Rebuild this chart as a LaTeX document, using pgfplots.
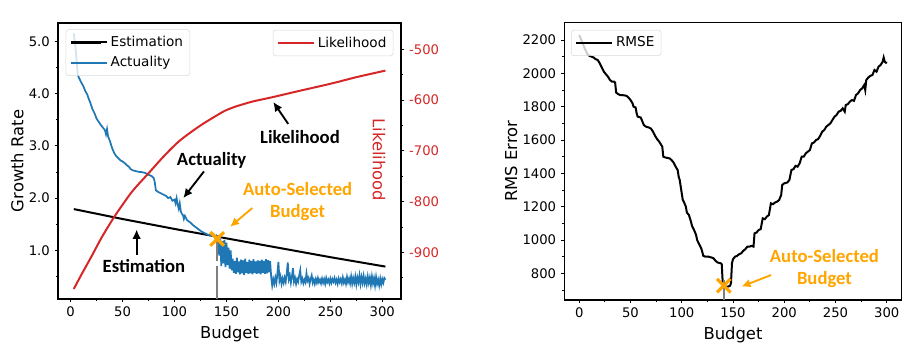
\documentclass[border=0pt]{standalone}
\usepackage{pgfplots}
\pgfplotsset{compat=1.18}
\usepackage{fontspec}
\setmainfont{DejaVu Sans}
\newfontfamily\annfont{Carlito}
\usetikzlibrary{arrows.meta}
\definecolor{mplblue}{HTML}{1F77B4}
\definecolor{mplred}{HTML}{D62728}
\definecolor{mplorange}{HTML}{FFA500}
\definecolor{mplgray}{HTML}{7F7F7F}
\newcommand{\tickfont}{\fontsize{9.9}{11}\selectfont}
\newcommand{\labfont}{\fontsize{12.3}{14}\selectfont}
\newcommand{\legfont}{\fontsize{10.2}{12}\selectfont}
\newcommand{\annf}{\annfont\bfseries\fontsize{14}{16.7}\selectfont}

\tikzset{arr/.style={-{Latex[length=7pt,width=6.5pt]}, line width=1.4pt}}
\pgfplotsset{
  mystyle/.style={
    scale only axis,
    tick align=outside,
    major tick length=2.6pt,
    minor tick length=1.6pt,
    every tick/.style={black, line width=0.6pt},
    axis line style={line width=0.8pt},
    ticklabel style={font=\tickfont},
    /pgf/number format/assume math mode=true,
    /pgf/number format/1000 sep={},
    label style={font=\labfont},
    ylabel shift={-3pt},
    legend cell align=left,
    legend style={font=\legfont, draw=black!15, rounded corners=2pt, fill=white,
      fill opacity=0.8, text opacity=1, inner xsep=3pt, inner ysep=3pt, row sep=2pt},
    legend image code/.code={\draw[##1, line width=1.6pt] (0pt,0pt) -- (22.5pt,0pt);
      \path (0pt,0pt) -- (27pt,0pt);},
  },
  xmark/.style={mplorange, only marks, mark=x, mark size=7.2pt, mark options={line width=2.4pt}, forget plot},
}

\begin{document}
\begin{tikzpicture}
\path[use as bounding box] (0,0) rectangle (690pt,259.5pt);

% ---------------- left: growth rate ----------------
\begin{axis}[mystyle,
  at={(43.5pt,35.25pt)}, anchor=south west, width=257.25pt, height=207pt,
  xmin=-12.2, xmax=318, ymin=0.07, ymax=5.35,
  xtick={0,50,100,150,200,250,300}, minor x tick num=1,
  ytick={1,2,3,4,5}, yticklabels={1.0,2.0,3.0,4.0,5.0},
  minor ytick={0.5,1.5,2.5,3.5,4.5},
  xtick pos=bottom, ytick pos=left,
  xlabel={Budget}, ylabel={Growth Rate},
  legend style={at={(0.0224,0.977)}, anchor=north west},
]
\addplot[black, line width=1.5pt] coordinates {
(3,1.79) (50,1.60) (100,1.41) (150,1.23) (200,1.05) (250,0.87) (303,0.69)};
\addlegendentry{Estimation}
\addplot[mplblue, line width=1.3pt] coordinates {
(3,5.15) (4,5.00) (5,4.80) (6,4.55) (7,4.35) (8,4.30) (10,4.22) (12,4.15) (14,4.05)
(16,3.98) (17,3.92) (19,3.82) (21,3.70) (23,3.62) (25,3.52) (27,3.46) (29,3.40)
(31,3.35) (33,3.30) (34,3.22) (35,3.32) (36,3.18) (38,3.08) (40,2.95) (42,2.86)
(44,2.80) (46,2.76) (48,2.72) (50,2.70) (52,2.67) (54,2.63) (56,2.60) (58,2.55)
(60,2.53) (62,2.52) (64,2.51) (66,2.50) (68,2.50) (70,2.49) (72,2.48) (74,2.45)
(76,2.44) (78,2.42) (80,2.38) (81,2.30) (82,2.15) (84,2.12) (86,2.10) (88,2.08)
(90,2.06) (92,2.04) (94,2.00) (96,2.02) (98,1.95) (100,1.97) (101,1.90) (102,2.00)
(103,1.88) (104,1.80) (105,1.90) (106,1.75) (107,1.70) (108,1.68) (109,1.60)
(110,1.66) (112,1.58) (114,1.55) (116,1.52) (118,1.48) (120,1.45) (122,1.42)
(124,1.39) (126,1.36) (128,1.34) (130,1.32) (132,1.30) (134,1.29) (136,1.28)
(138,1.30) (139,1.25) (140,1.28) (141,1.22)
(142,1.25) (143,0.90) (144,1.22) (145,0.70) (146,1.18) (147,0.75) (148,1.20)
(149,0.68) (150,1.15) (151,0.72) (152,1.05) (153,0.65) (154,1.00) (155,0.62)
(156,0.84) (157,0.57) (158,0.80) (159,0.55) (160,0.86) (161,0.58) (162,0.79)
(163,0.54) (164,0.82) (165,0.56) (166,0.81) (167,0.53) (168,0.84) (169,0.57)
(170,0.78) (171,0.55) (172,0.82) (173,0.56) (174,0.80) (175,0.54) (176,0.83)
(177,0.57) (178,0.79) (179,0.55) (180,0.81) (181,0.56) (182,0.80) (183,0.54)
(184,0.82) (185,0.57) (186,0.80) (187,0.55) (188,0.83) (189,0.56) (190,0.81)
(191,0.58) (192,0.80)
(193,0.50) (194,0.33) (195,0.45) (196,0.36) (197,0.48) (198,0.38) (199,0.55)
(200,0.78) (201,0.42) (202,0.50) (203,0.36) (204,0.46) (205,0.38) (206,0.48)
(207,0.40) (208,0.55) (209,0.77) (210,0.45) (211,0.52) (212,0.38) (213,0.50)
(214,0.66) (215,0.40) (216,0.47) (217,0.36) (218,0.45) (219,0.40) (220,0.52)
(221,0.62) (222,0.40) (223,0.46) (224,0.37) (225,0.44) (226,0.39) (227,0.56)
(228,0.42) (229,0.47) (230,0.36) (231,0.45) (232,0.52) (233,0.38) (234,0.44)
(235,0.36) (236,0.45) (237,0.38) (238,0.47) (239,0.39) (240,0.44) (241,0.37)
(242,0.46) (243,0.38) (244,0.45) (245,0.36) (246,0.47) (247,0.39) (248,0.44)
(249,0.37) (250,0.46) (251,0.38) (252,0.45) (253,0.40) (254,0.47) (255,0.38)
(256,0.44) (257,0.36) (258,0.46) (259,0.39) (260,0.45) (261,0.37) (262,0.48)
(263,0.38) (264,0.44) (265,0.36) (266,0.49) (267,0.39) (268,0.46) (269,0.37)
(270,0.50) (271,0.36) (272,0.47) (273,0.38) (274,0.50) (275,0.35) (276,0.48)
(277,0.39) (278,0.52) (279,0.36) (280,0.49) (281,0.38) (282,0.51) (283,0.37)
(284,0.46) (285,0.35) (286,0.50) (287,0.38) (288,0.48) (289,0.34) (290,0.50)
(291,0.37) (292,0.47) (293,0.33) (294,0.49) (295,0.36) (296,0.44) (297,0.33)
(298,0.46) (299,0.35) (300,0.45) (301,0.38) (302,0.47) (303,0.44)};
\addlegendentry{Actuality}
\addplot[mplgray, line width=1.5pt, dash pattern=on 24.5pt off 3.75pt, forget plot]
  coordinates {(141,0.07) (141,1.30)};
\addplot[xmark] coordinates {(141,1.22)};
\node[font=\annf] at (axis cs:220.7,3.17) {Likelihood};
\draw[arr] (axis cs:209.4,3.42) -- (axis cs:195,3.84);
\node[font=\annf] at (axis cs:135.7,2.73) {Actuality};
\draw[arr] (axis cs:128.3,2.51) -- (axis cs:108.4,2.0);
\node[font=\annf] at (axis cs:70.5,0.70) {Estimation};
\draw[arr] (axis cs:63.5,0.92) -- (axis cs:63.5,1.40);
\node[font=\annf, text=mplorange, align=center] at (axis cs:218.5,1.93) {Auto-Selected\\Budget};
\draw[arr, mplorange] (axis cs:174.8,1.81) -- (axis cs:153.3,1.45);
\end{axis}

% ---------------- left: likelihood twin ----------------
\begin{axis}[mystyle,
  at={(43.5pt,35.25pt)}, anchor=south west, width=257.25pt, height=207pt,
  xmin=-12.2, xmax=318, ymin=-991.7, ymax=-448.3,
  axis x line=none, axis y line*=right, tick align=outside,
  ytick={-900,-800,-700,-600,-500}, yticklabels={-900,-800,-700,-600,-500},
  minor ytick={-950,-850,-750,-650,-550},
  yticklabel style={text=mplred},
  legend style={at={(0.9776,0.975)}, anchor=north east},
]
\addplot[mplred, line width=1.5pt, smooth] coordinates {
(3,-972) (10,-945) (20,-908) (30,-870) (41,-833) (50,-806) (60,-778) (75,-744)
(90,-710) (105,-680) (125,-650) (145,-625) (152,-618) (160,-612) (175,-603)
(195,-594) (220,-582) (250,-568) (275,-555) (303,-542)};
\addlegendentry{Likelihood}
\node[font=\labfont, text=mplred, rotate=-90] at (rel axis cs:0.936,0.504) {Likelihood};
\end{axis}

% ---------------- right: RMSE ----------------
\begin{axis}[mystyle,
  at={(423.2pt,34.5pt)}, anchor=south west, width=253.1pt, height=208pt,
  xmin=-14.6, xmax=314.6, ymin=640, ymax=2304,
  xtick={0,50,100,150,200,250,300}, minor x tick num=1,
  ytick={800,1000,1200,1400,1600,1800,2000,2200},
  minor ytick={700,900,1100,1300,1500,1700,1900,2100},
  xtick pos=bottom, ytick pos=left,
  xlabel={Budget}, ylabel={RMS Error},
  legend style={at={(0.02,0.974)}, anchor=north west},
]
\addplot[black, line width=1.5pt] coordinates {
(0,2230) (2,2200) (4,2170) (6,2140) (8,2115) (10,2105) (12,2100) (14,2095) (16,2085)
(18,2080) (20,2060) (22,2035) (24,2010) (26,1995) (28,1980) (30,1960) (32,1950)
(34,1950) (35,1945) (36,1885) (38,1875) (40,1870) (44,1868) (46,1865) (48,1855)
(50,1840) (52,1820) (53,1800) (55,1795) (56,1760) (57,1740) (60,1735) (62,1705)
(63,1690) (65,1680) (68,1675) (70,1668) (72,1650) (74,1625) (76,1605) (78,1590)
(80,1570) (81,1560) (82,1500) (84,1495) (88,1490) (90,1480) (92,1465) (94,1440)
(96,1420) (97,1380) (98,1360) (99,1320) (100,1280) (101,1240) (102,1230) (104,1200)
(105,1165) (107,1150) (109,1110) (110,1085) (112,1060) (114,1030) (115,1000)
(117,975) (119,950) (120,930) (121,905) (123,900) (126,900) (129,895) (131,890)
(133,875) (135,865) (138,860) (139,855) (140,740) (141,725) (143,720) (145,720)
(147,725) (148,740) (149,860) (150,885) (152,900) (154,905) (156,915) (158,920)
(160,935) (162,945) (164,960) (166,960) (168,965) (170,960) (171,1040) (173,1045)
(175,1060) (177,1065) (179,1130) (181,1125) (183,1140) (185,1150) (187,1220)
(189,1215) (191,1225) (193,1230) (195,1240) (197,1270) (198,1330) (200,1340)
(203,1345) (205,1360) (207,1420) (209,1425) (211,1445) (213,1440) (215,1460)
(217,1500) (219,1500) (221,1520) (223,1530) (225,1540) (227,1580) (229,1585)
(231,1600) (233,1605) (235,1625) (237,1650) (239,1660) (241,1680) (243,1690)
(245,1700) (247,1720) (249,1740) (251,1750) (253,1770) (255,1775) (257,1790)
(259,1770) (260,1810) (262,1815) (264,1830) (266,1840) (268,1835) (270,1870)
(272,1880) (274,1900) (276,1910) (278,1930) (279,1900) (280,1960) (282,1975)
(284,1985) (286,1990) (288,2020) (290,2010) (292,2040) (294,2050) (296,2070)
(297,2095) (298,2070) (300,2060)};
\addlegendentry{RMSE}
\addplot[mplgray, line width=1.5pt, forget plot] coordinates {(141,640) (141,760)};
\addplot[xmark] coordinates {(141,726)};
\node[font=\annf, text=mplorange, align=center] at (axis cs:239.2,830) {Auto-Selected\\Budget};
\draw[arr, mplorange] (axis cs:187.2,790) -- (axis cs:158,720);
\end{axis}
\end{tikzpicture}
\end{document}
